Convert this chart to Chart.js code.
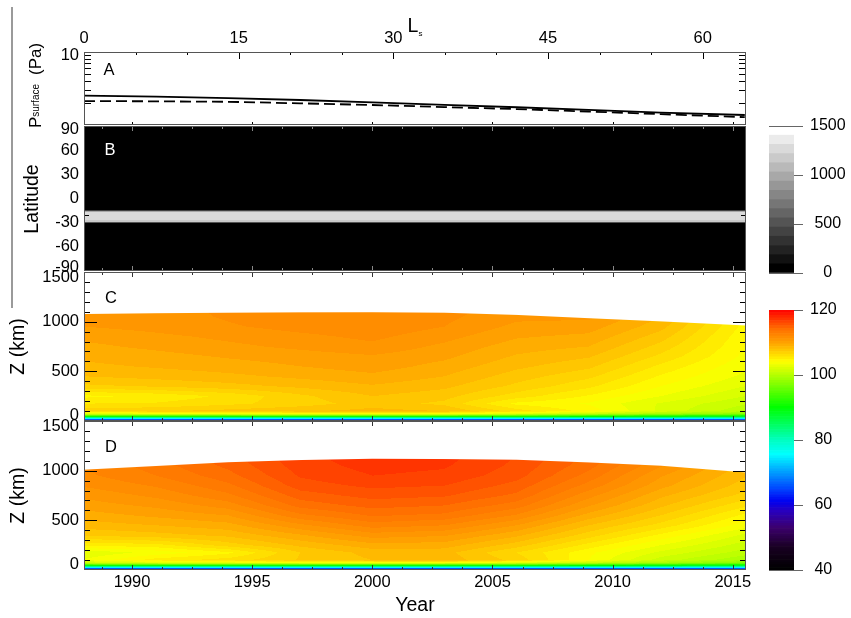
<!DOCTYPE html>
<html>
<head>
<meta charset="utf-8">
<title>Pluto atmosphere model</title>
<script src="https://cdn.jsdelivr.net/npm/chart.js@4.4.1/dist/chart.umd.min.js"></script>
<style>
  html, body { margin: 0; padding: 0; background: #fff; }
  #fig { position: relative; width: 851px; height: 618px; overflow: hidden; background: #fff; }
  #fig canvas { position: absolute; left: 0; top: 0; }
  #rule { position: absolute; left: 11px; top: 7px; width: 2px; height: 301px; background: #9a9a9a; }
</style>
</head>
<body>
<div id="fig">
  <div id="rule"></div>
  <canvas id="panelA" width="851" height="618"></canvas>
  <canvas id="panelB" width="851" height="618"></canvas>
  <canvas id="panelC" width="851" height="618"></canvas>
  <canvas id="panelD" width="851" height="618"></canvas>
  <canvas id="barGrey" width="851" height="618"></canvas>
  <canvas id="barTemp" width="851" height="618"></canvas>
</div>
<script>
// sample years of the model runs
const years = [1988, 1991, 1994, 1997, 2000, 2003, 2006, 2009, 2012, 2015.5];

// surface pressure (Pa), two runs
const pSolid  = [2.52, 2.44, 2.33, 2.20, 2.04, 1.89, 1.75, 1.61, 1.48, 1.37];
const pDashed = [2.13, 2.11, 2.08, 1.98, 1.88, 1.76, 1.65, 1.53, 1.41, 1.28];

// tick labels
const yearTicks = [1990, 1995, 2000, 2005, 2010, 2015];
const lsTicks = [0, 15, 30, 45, 60];
const latTicks = [-90, -60, -30, 0, 30, 60, 90];
const altTicks = [0, 500, 1000, 1500];
const greyTicks = [0, 500, 1000, 1500];
const tempTicks = [40, 60, 80, 100, 120];

// panel B: latitude profile (same every year)
const fluxLat = [-90, -31, -30, -29, -27, -22, -18, -16.5, -15, -14, 90];
const fluxVal = [0, 0, 400, 1150, 1230, 1290, 1260, 1180, 500, 0, 0];

// altitude levels (km) of the temperature tables
const altKm = [0, 15, 30, 45, 70, 100, 175, 250, 350, 450, 550, 650, 750, 850, 950, 1050, 1150];

// panel C temperature (K), one row per altitude, one column per year
const tempC = [
  [58, 58, 58, 58, 58, 58, 58, 58, 58, 58],
  [66, 66, 66, 66, 66, 66, 66, 66, 66, 66],
  [79, 79, 79, 79, 79, 79, 79, 79, 79, 79],
  [91, 91, 91, 91, 91, 91, 91, 90, 89, 88],
  [102.0, 102.5, 103.0, 103.3, 103.5, 103.3, 102.0, 100.5, 99.0, 97.5],
  [106.9, 107.1, 107.5, 107.9, 108.3, 108.0, 106.0, 104.5, 102.2, 100.2],
  [105.6, 105.7, 106.2, 106.8, 107.6, 107.0, 104.6, 103.9, 102.3, 100.9],
  [104.6, 105.0, 105.8, 107.0, 108.0, 107.5, 106.0, 104.7, 103.2, 101.6],
  [107.0, 107.3, 107.7, 108.2, 108.7, 108.2, 107.0, 105.8, 104.0, 102.4],
  [108.0, 108.3, 108.6, 109.0, 109.4, 108.8, 107.6, 106.6, 104.7, 103.0],
  [108.6, 108.9, 109.2, 109.6, 110.0, 109.3, 108.2, 107.4, 105.4, 103.4],
  [109.0, 109.3, 109.7, 110.0, 110.3, 109.8, 108.7, 108.1, 106.2, 103.8],
  [109.4, 109.8, 110.2, 110.6, 111.0, 110.2, 109.2, 108.8, 106.9, 104.0],
  [109.8, 110.2, 110.6, 111.0, 111.4, 110.7, 109.7, 109.4, 107.6, 104.2],
  [110.4, 110.7, 111.1, 111.5, 111.8, 111.2, 110.2, 110.0, 108.3, 104.5],
  [110.5, 110.8, 111.3, 111.7, 111.9, 111.4, 110.6, 110.6, 108.8, 104.9],
  [110.6, 110.9, 111.4, 111.8, 112.0, 111.6, 110.9, 110.8, 109.0, 105.2]
];
// panel C upper edge of the model grid (km)
const topC = [1077, 1085, 1090, 1094, 1095, 1090, 1068, 1035, 1003, 962];

// panel D temperature (K)
const tempD = [
  [58, 58, 58, 58, 58, 58, 58, 58, 58, 58],
  [66, 66, 66, 66, 66, 66, 66, 66, 66, 66],
  [79, 79, 79, 79, 79, 79, 79, 79, 79, 79],
  [91, 91, 91, 91, 91, 91, 91, 90, 89, 88],
  [101.0, 102.0, 102.5, 103.0, 103.0, 103.0, 102.0, 100.5, 99.0, 97.0],
  [103.3, 105.2, 106.0, 107.3, 108.0, 108.5, 106.9, 104.0, 101.2, 99.3],
  [102.5, 103.5, 104.6, 107.2, 108.3, 108.3, 106.4, 104.2, 102.2, 100.4],
  [105.0, 105.3, 106.8, 108.2, 109.3, 109.2, 107.6, 105.3, 103.2, 101.2],
  [107.3, 107.7, 108.2, 109.5, 110.8, 110.5, 109.0, 106.8, 104.6, 102.2],
  [108.4, 108.8, 109.3, 111.0, 112.4, 112.0, 110.4, 108.0, 106.1, 103.6],
  [109.2, 109.8, 110.4, 112.6, 113.7, 113.4, 111.9, 109.3, 107.2, 104.6],
  [110.0, 110.6, 111.6, 113.9, 114.7, 114.4, 113.2, 110.5, 108.2, 105.8],
  [110.6, 111.4, 112.6, 114.8, 115.5, 115.3, 114.2, 111.5, 109.0, 106.9],
  [111.3, 112.1, 113.4, 115.6, 116.2, 116.0, 114.9, 112.5, 109.9, 107.6],
  [111.8, 112.8, 114.1, 116.1, 116.8, 116.6, 115.5, 113.3, 110.5, 108.1],
  [112.0, 113.2, 114.6, 116.4, 117.1, 116.9, 115.8, 113.9, 111.3, 108.5],
  [112.2, 113.5, 115.0, 116.6, 117.3, 117.1, 116.0, 114.2, 111.5, 108.6]
];
const topD = [1010, 1047, 1085, 1107, 1120, 1117, 1110, 1083, 1050, 983];

// colour table for temperature
const tempStopV = [40, 47, 53, 58, 61, 65, 69, 73, 75.5, 80, 84, 90, 97, 104, 110, 114, 120];
const tempStopC = [[0,0,0],[25,0,35],[60,0,110],[40,0,190],[0,0,240],[0,70,255],[0,140,255],[0,210,255],
  [0,255,255],[0,255,190],[0,255,110],[0,255,0],[128,255,0],[255,255,0],[255,160,0],[255,112,0],[255,0,0]];
const TEMP_MIN = 40, TEMP_MAX = 120, TEMP_STEP = 0.8;
const GREY_STEP = 93.75, GREY_LEVELS = 15;

const FONT = '"Liberation Sans", Arial, Helvetica, sans-serif';
const YEAR_MIN = 1988, YEAR_MAX = 2015.55;

Chart.defaults.font.family = FONT;
Chart.defaults.color = '#000';
Chart.defaults.animation = false;
Chart.defaults.events = [];
Chart.defaults.responsive = false;
Chart.defaults.plugins.legend.display = false;
Chart.defaults.plugins.tooltip.enabled = false;

const plain = v => String(v);

function lerp1(xs, ys, x) {
  if (x <= xs[0]) return ys[0];
  for (let i = 1; i < xs.length; i++) {
    if (x <= xs[i]) {
      const f = (x - xs[i - 1]) / (xs[i] - xs[i - 1]);
      return ys[i - 1] + f * (ys[i] - ys[i - 1]);
    }
  }
  return ys[ys.length - 1];
}

function tempRGB(v) {
  const r = tempStopC.map(c => c[0]), g = tempStopC.map(c => c[1]), b = tempStopC.map(c => c[2]);
  return [lerp1(tempStopV, r, v), lerp1(tempStopV, g, v), lerp1(tempStopV, b, v)].map(Math.round);
}

// one colour per contour level
const nTemp = Math.round((TEMP_MAX - TEMP_MIN) / TEMP_STEP);
const tempPalette = [];
for (let i = 0; i < nTemp; i++) tempPalette.push(tempRGB(TEMP_MIN + (i + 0.5) * TEMP_STEP));
function tempLevel(t) {
  return Math.max(0, Math.min(nTemp - 1, Math.floor((t - TEMP_MIN) / TEMP_STEP)));
}
function greyOf(level) { return Math.round(level * 16.8); }

// minor year ticks every 1.25 yr
const yearMinor = [];
for (let t = 1988.75; t < YEAR_MAX; t += 1.25) yearMinor.push(t);

function drawRich(ctx, parts, x, y, rot) {
  ctx.save();
  ctx.translate(x, y);
  ctx.rotate(rot || 0);
  ctx.textAlign = 'left';
  ctx.textBaseline = 'alphabetic';
  let total = 0;
  const ws = parts.map(p => {
    ctx.font = p.size + 'px ' + FONT;
    const w = ctx.measureText(p.t).width + (p.gap || 0);
    total += w;
    return w;
  });
  let cx = -total / 2;
  parts.forEach((p, i) => {
    ctx.font = p.size + 'px ' + FONT;
    ctx.fillStyle = p.color || '#000';
    ctx.fillText(p.t, cx, p.dy || 0);
    cx += ws[i];
  });
  ctx.restore();
}

// frame, inward ticks, y labels and panel notes
function decorate(spec) {
  return {
    id: 'decorate',
    beforeDatasetsDraw(chart) {
      if (spec.paint) spec.paint(chart);
    },
    afterDraw(chart) {
      const { ctx, chartArea: a } = chart;
      ctx.save();
      ctx.lineWidth = 1;
      for (const t of spec.ticks || []) {
        const sc = chart.scales[t.scale];
        ctx.strokeStyle = t.color || '#000';
        ctx.beginPath();
        for (const v of t.values) {
          const p = Math.round(sc.getPixelForValue(v)) + 0.5;
          if (sc.isHorizontal()) {
            if (t.sides.includes('top')) { ctx.moveTo(p, a.top); ctx.lineTo(p, a.top + t.len); }
            if (t.sides.includes('bottom')) { ctx.moveTo(p, a.bottom); ctx.lineTo(p, a.bottom - t.len); }
          } else {
            if (t.sides.includes('left')) { ctx.moveTo(a.left, p); ctx.lineTo(a.left + t.len, p); }
            if (t.sides.includes('right')) { ctx.moveTo(a.right, p); ctx.lineTo(a.right - t.len, p); }
          }
        }
        ctx.stroke();
      }
      ctx.strokeStyle = spec.border || '#555';
      ctx.strokeRect(a.left + 0.5, a.top + 0.5, a.width - 1, a.height - 1);

      if (spec.yLabels) {
        const L = spec.yLabels;
        const sc = chart.scales[L.scale];
        ctx.font = '16.5px ' + FONT;
        ctx.fillStyle = '#000';
        ctx.textAlign = 'right';
        ctx.textBaseline = 'middle';
        L.values.forEach((v, i) => {
          let y = sc.getPixelForValue(v);
          if (i === L.values.length - 1) y += L.topShift || 0;
          if (i === 0) y += L.bottomShift || 0;
          ctx.fillText(String(v), a.left - 5, y);
        });
      }
      for (const n of spec.notes || []) drawRich(ctx, n.parts, n.x, n.y, n.rot);
      ctx.restore();
    }
  };
}

function yearAxis() {
  return { type: 'linear', min: YEAR_MIN, max: YEAR_MAX, display: false };
}
function yearTickMarks(color) {
  return [
    { scale: 'x', values: yearMinor, len: 3, sides: ['top', 'bottom'], color },
    { scale: 'x', values: yearTicks, len: 5, sides: ['top', 'bottom'], color }
  ];
}
const altMinor = [100, 200, 300, 400, 600, 700, 800, 900, 1100, 1200, 1300, 1400];
function altTickMarks() {
  return [
    { scale: 'y', values: altMinor, len: 6, sides: ['left', 'right'] },
    { scale: 'y', values: [500, 1000], len: 13, sides: ['left', 'right'] }
  ];
}

// filled temperature contours on the year / altitude scales
function tempPainter(table, tops) {
  return chart => {
    const { ctx, chartArea: a, scales: { x, y } } = chart;
    const w = Math.round(a.width), h = Math.round(a.height);
    const off = document.createElement('canvas');
    off.width = w; off.height = h;
    const oc = off.getContext('2d');
    const img = oc.createImageData(w, h);
    const zs = [];
    for (let j = 0; j < h; j++) zs.push(y.getValueForPixel(a.top + j + 0.5));
    const kmPx = Math.abs(y.getValueForPixel(a.top) - y.getValueForPixel(a.top + 1));
    for (let i = 0; i < w; i++) {
      const t = x.getValueForPixel(a.left + i + 0.5);
      const col = table.map(row => lerp1(years, row, t));
      const top = lerp1(years, tops, t);
      for (let j = 0; j < h; j++) {
        const alpha = Math.max(0, Math.min(1, (top - zs[j]) / kmPx + 0.5));
        if (alpha <= 0) continue;
        const c = tempPalette[tempLevel(lerp1(altKm, col, zs[j]))];
        const p = (j * w + i) * 4;
        img.data[p] = c[0]; img.data[p + 1] = c[1]; img.data[p + 2] = c[2];
        img.data[p + 3] = Math.round(alpha * 255);
      }
    }
    oc.putImageData(img, 0, 0);
    ctx.drawImage(off, a.left, a.top);
  };
}

// grey field of panel B, one grey per latitude row
function fluxPainter(chart) {
  const { ctx, chartArea: a, scales: { y } } = chart;
  const h = Math.round(a.height);
  for (let j = 0; j < h; j++) {
    const lat = y.getValueForPixel(a.top + j + 0.5);
    const v = lerp1(fluxLat, fluxVal, lat);
    const lev = Math.min(GREY_LEVELS - 1, Math.floor(v / GREY_STEP));
    const g = greyOf(lev);
    ctx.fillStyle = `rgb(${g},${g},${g})`;
    ctx.fillRect(a.left, a.top + j, a.width, 1);
  }
}

const pad = (top, bottom) => ({ left: 84, right: 105, top, bottom });

// A: surface pressure
new Chart(document.getElementById('panelA'), {
  type: 'scatter',
  data: {
    datasets: [
      { data: years.map((t, i) => ({ x: t, y: pSolid[i] })), showLine: true, borderColor: '#000',
        borderWidth: 1.8, pointRadius: 0 },
      { data: years.map((t, i) => ({ x: t, y: pDashed[i] })), showLine: true, borderColor: '#000',
        borderWidth: 1.8, borderDash: [11, 5], pointRadius: 0 }
    ]
  },
  options: {
    layout: { padding: pad(0, 493) },
    scales: {
      x: yearAxis(),
      ls: {
        type: 'linear', axis: 'x', position: 'top', min: 0, max: 64.2,
        afterBuildTicks: s => { s.ticks = lsTicks.map(v => ({ value: v })); },
        afterFit: s => { s.height = 52; },
        grid: { display: false, drawTicks: false }, border: { display: false },
        ticks: { font: { size: 16.5 }, padding: 4, maxRotation: 0, autoSkip: false, callback: plain }
      },
      y: { type: 'logarithmic', min: 1, max: 10, display: false }
    }
  },
  plugins: [decorate({
    ticks: [
      { scale: 'y', values: [2, 3, 4, 5, 6, 7, 8, 9], len: 7, sides: ['left', 'right'] },
      { scale: 'ls', values: [5, 10, 20, 25, 35, 40, 50, 55], len: 3, sides: ['top'] },
      { scale: 'ls', values: [15, 30, 45, 60], len: 7, sides: ['top'] },
      { scale: 'x', values: yearTicks, len: 3, sides: ['bottom'] }
    ],
    yLabels: { scale: 'y', values: [10], topShift: 3 },
    notes: [
      { parts: [{ t: 'A', size: 16.5 }], x: 109, y: 75 },
      { parts: [{ t: 'L', size: 19.5 }, { t: 's', size: 8, dy: 4 }], x: 415, y: 32 },
      { parts: [{ t: 'P', size: 17 }, { t: 'surface', size: 10, dy: -2.5, gap: 9 }, { t: '(Pa)', size: 17 }],
        x: 41, y: 85.5, rot: -Math.PI / 2 }
    ]
  })]
});

// B: grey latitude field
new Chart(document.getElementById('panelB'), {
  type: 'scatter',
  data: { datasets: [] },
  options: {
    layout: { padding: pad(126, 347) },
    scales: {
      x: yearAxis(),
      y: { type: 'linear', min: -90, max: 90, display: false }
    }
  },
  plugins: [decorate({
    paint: fluxPainter,
    ticks: [
      { scale: 'y', values: [-80, -70, -50, -40, -20, -10, 10, 20, 40, 50, 70, 80], len: 5, sides: ['left', 'right'] },
      { scale: 'y', values: [-60, -30, 0, 30, 60], len: 12, sides: ['left', 'right'] },
      ...yearTickMarks('#888')
    ],
    yLabels: { scale: 'y', values: latTicks, topShift: 3, bottomShift: -4 },
    notes: [
      { parts: [{ t: 'B', size: 16.5, color: '#fff' }], x: 110, y: 155 },
      { parts: [{ t: 'Latitude', size: 19.5 }], x: 38, y: 199, rot: -Math.PI / 2 }
    ]
  })]
});

// C and D: temperature vs altitude
function tempPanel(id, table, tops, top, bottom, letter, withYears) {
  const x = yearAxis();
  if (withYears) {
    Object.assign(x, {
      display: true, position: 'bottom',
      afterBuildTicks: s => { s.ticks = yearTicks.map(v => ({ value: v })); },
      afterFit: s => { s.height = 48; },
      grid: { display: false, drawTicks: false }, border: { display: false },
      ticks: { font: { size: 16.5 }, padding: 3, maxRotation: 0, autoSkip: false, callback: plain },
      title: { display: true, text: 'Year', font: { size: 19.5 }, padding: { top: 0, bottom: 1 } }
    });
  }
  return new Chart(document.getElementById(id), {
    type: 'scatter',
    data: { datasets: [] },
    options: {
      layout: { padding: pad(top, bottom) },
      scales: { x, y: { type: 'linear', min: 0, max: 1500, display: false } }
    },
    plugins: [decorate({
      paint: tempPainter(table, tops),
      ticks: [...altTickMarks(), ...yearTickMarks('#333')],
      yLabels: { scale: 'y', values: altTicks, topShift: 5, bottomShift: -6 },
      notes: [
        { parts: [{ t: letter, size: 16.5 }], x: 111, y: top + 31 },
        { parts: [{ t: 'Z (km)', size: 19.5 }], x: 24, y: top + 74.5, rot: -Math.PI / 2 }
      ]
    })]
  });
}
tempPanel('panelC', tempC, topC, 272, 197, 'C', false);
tempPanel('panelD', tempD, topD, 421, 0, 'D', true);

// colour bars
function colourBar(id, levels, top, bottom, min, max, ticks) {
  return new Chart(document.getElementById(id), {
    type: 'bar',
    data: {
      labels: ['bar'],
      datasets: levels.map(l => ({
        data: [[l.lo, l.hi]], backgroundColor: l.color, borderWidth: 0,
        grouped: false, barPercentage: 1, categoryPercentage: 1
      }))
    },
    options: {
      layout: { padding: { left: 769, right: 0, top, bottom } },
      scales: {
        x: { display: false },
        y: {
          position: 'right', min, max, z: 1,
          afterBuildTicks: s => { s.ticks = ticks.map(v => ({ value: v })); },
          afterFit: s => { s.width = 57; },
          grid: { color: '#666', lineWidth: 1, tickLength: 9, tickColor: '#666' },
          border: { display: false },
          ticks: { font: { size: 16 }, padding: 7, crossAlign: 'center', autoSkip: false, callback: plain }
        }
      }
    }
  });
}

const greyLevels = [];
for (let i = 0; i < GREY_LEVELS; i++) {
  const g = greyOf(i);
  greyLevels.push({ lo: i * GREY_STEP, hi: (i + 1) * GREY_STEP, color: `rgb(${g},${g},${g})` });
}
colourBar('barGrey', greyLevels, 126, 345, 0, 1500, greyTicks);

const tempLevels = tempPalette.map((c, i) => ({
  lo: TEMP_MIN + i * TEMP_STEP, hi: TEMP_MIN + (i + 1) * TEMP_STEP, color: `rgb(${c[0]},${c[1]},${c[2]})`
}));
colourBar('barTemp', tempLevels, 310, 48, TEMP_MIN, TEMP_MAX, tempTicks);
</script>
</body>
</html>
